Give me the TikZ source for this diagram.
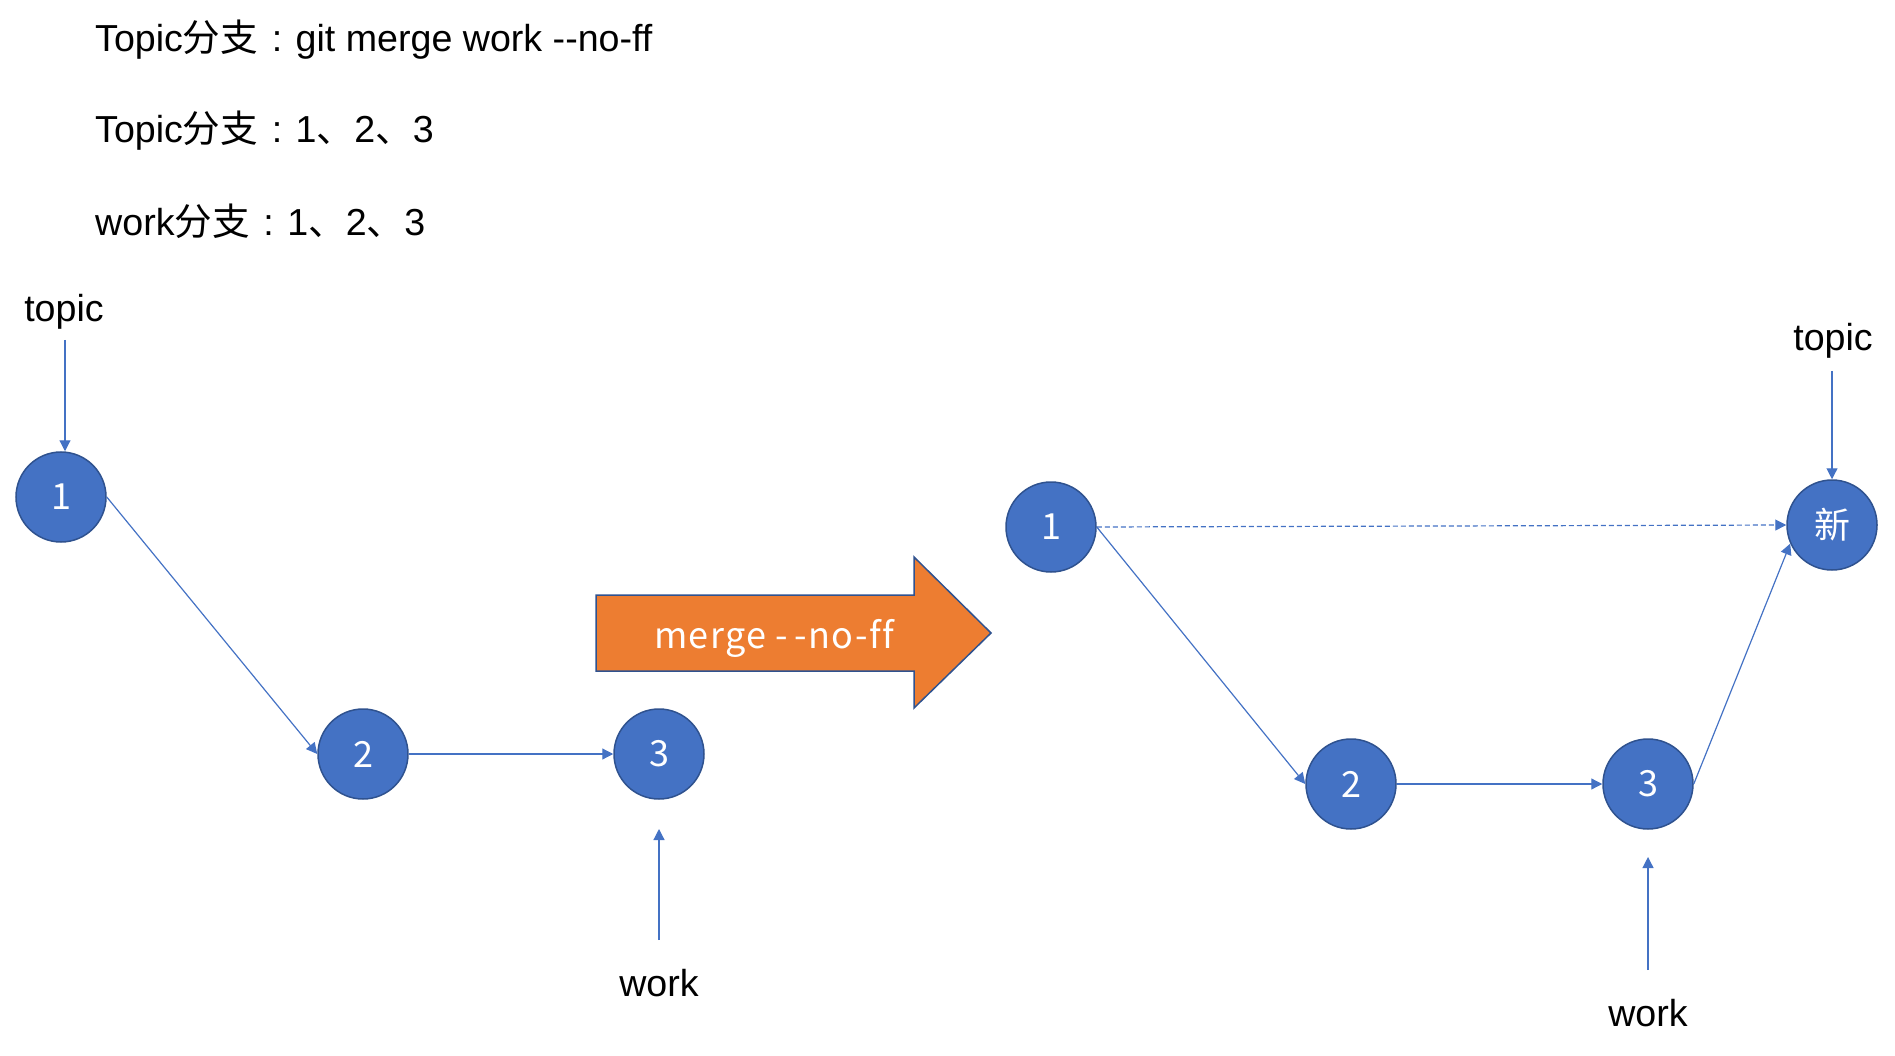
\documentclass[tikz,border=0pt]{standalone}
\usepackage{fontspec}
\setmainfont{Liberation Sans}
\newfontfamily\cjk{Noto Sans CJK SC}
\newfontfamily\mergefont[LetterSpace=4,Ligatures=NoCommon]{Noto Sans CJK SC}
\usetikzlibrary{arrows.meta}
\definecolor{nodeblue}{HTML}{4472C4}
\definecolor{nodeedge}{HTML}{2F528F}
\definecolor{lineblue}{HTML}{4472C4}
\definecolor{mergeorange}{HTML}{ED7D31}
\newcommand\dashdash{-\kern0pt-}
\newcommand\fwcolon{\hspace{0.361em}:\hspace{0.361em}}
\tikzset{
  commit/.style={circle, fill=nodeblue, draw=nodeedge, line width=1.5pt, minimum size=90pt, inner sep=0pt, text=white, font=\cjk\fontsize{36}{40}\selectfont},
  link/.style={draw=lineblue, line width=1.2pt, -{Triangle[length=11pt,width=11pt]}},
  lab/.style={font=\fontsize{37.6}{42}\selectfont, inner sep=0pt, text=black},
}
\begin{document}
\begin{tikzpicture}[x=1pt,y=-1pt]
\useasboundingbox (0,0) rectangle (1895,1056);
% header text
\node[lab, anchor=west] (t1) at (95,40) {Topic{\cjk 分支}\fwcolon git merge work \dashdash no-ff};
\node[lab, anchor=west] (t2) at (95,131) {Topic{\cjk 分支}\fwcolon 1{\cjk 、}2{\cjk 、}3};
\node[lab, anchor=west] (t3) at (95,221) {work{\cjk 分支}\fwcolon 1{\cjk 、}2{\cjk 、}3};
% left graph
\node[commit] (l1) at (61,497) {1};
\node[commit] (l2) at (363,754) {2};
\node[commit] (l3) at (659,754) {3};
\node[lab] (tl) at (64,312) {topic};
\node[lab] (wl) at (659,983) {work};
\coordinate (tls) at (65,340);
\coordinate (wls) at (659,940);
\coordinate (wlt) at (659,829);
\draw[link] (tls) -- (tls |- l1.north);
\draw[link] (l1.east) -- (l2.west);
\draw[link] (l2.east) -- (l3.west);
\draw[link] (wls) -- (wlt);
% merge arrow
\filldraw[fill=mergeorange, draw=nodeedge, line width=1.5pt]
  (596,595) -- (914,595) -- (914,557) -- (991,633) -- (914,708) -- (914,671) -- (596,671) -- cycle;
\node[text=white, font=\mergefont\fontsize{36}{40}\selectfont, inner sep=0pt] (mt) at (774,638) {merge -\kern6pt-no-ff};
% right graph
\node[commit] (r1) at (1051,527) {1};
\node[commit] (r2) at (1351,784) {2};
\node[commit] (r3) at (1648,784) {3};
\node[commit] (rn) at (1832,525) {新};
\node[lab] (tr) at (1833,341) {topic};
\node[lab] (wr) at (1648,1013) {work};
\coordinate (trs) at (1832,371);
\coordinate (wrs) at (1648,970);
\coordinate (wrt) at (1648,857);
\draw[link] (trs) -- (rn.north);
\draw[link, dash pattern=on 5pt off 3pt] (r1.east) -- (rn.west);
\draw[link] (r1.east) -- (r2.west);
\draw[link] (r2.east) -- (r3.west);
\draw[link] (r3.east) -- (rn.204);
\draw[link] (wrs) -- (wrt);
\end{tikzpicture}
\end{document}
